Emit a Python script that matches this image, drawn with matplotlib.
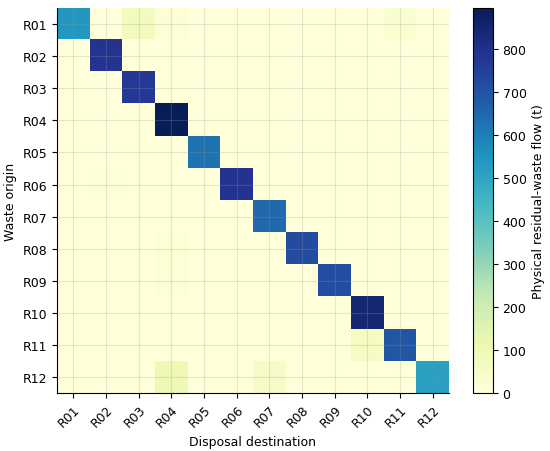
import matplotlib
matplotlib.use('Agg')
import matplotlib.pyplot as plt
import numpy as np

regions = ['R%02d' % i for i in range(1, 13)]

# diagonal (origin == destination) flows, t
diag = [540, 785, 770, 895, 625, 790, 650, 720, 715, 845, 690, 515]

# off-diagonal flows: (origin, destination, t)
off_diag = [
    ('R01', 'R03', 75),
    ('R01', 'R04', 8),
    ('R01', 'R11', 30),
    ('R06', 'R02', 12),
    ('R08', 'R04', 14),
    ('R09', 'R04', 12),
    ('R11', 'R10', 60),
    ('R12', 'R04', 100),
    ('R12', 'R07', 50),
]

n = len(regions)
flow = np.zeros((n, n))
for i, v in enumerate(diag):
    flow[i, i] = v
idx = {r: i for i, r in enumerate(regions)}
for o, d, v in off_diag:
    flow[idx[o], idx[d]] = v

fig = plt.figure(figsize=(5.5, 4.52), dpi=100)
ax = fig.add_axes([0.1036, 0.128, 0.7127, 0.852])
cax = fig.add_axes([0.86, 0.128, 0.036, 0.852])

im = ax.imshow(flow, cmap='YlGnBu', vmin=0, vmax=flow.max(),
               aspect='auto', interpolation='nearest')

ax.set_xticks(np.arange(n))
ax.set_yticks(np.arange(n))
ax.set_xticklabels(regions, rotation=45, ha='right', rotation_mode='anchor')
ax.set_yticklabels(regions)
ax.tick_params(labelsize=9)
ax.set_xlabel('Disposal destination', fontsize=9)
ax.set_ylabel('Waste origin', fontsize=9)
ax.grid(True, color='#999999', alpha=0.25, linewidth=0.8)
ax.spines['top'].set_visible(False)
ax.spines['right'].set_visible(False)

cb = fig.colorbar(im, cax=cax)
cb.set_label('Physical residual-waste flow (t)', fontsize=9)
cb.ax.tick_params(labelsize=9)

plt.savefig('out.png', dpi=100)
